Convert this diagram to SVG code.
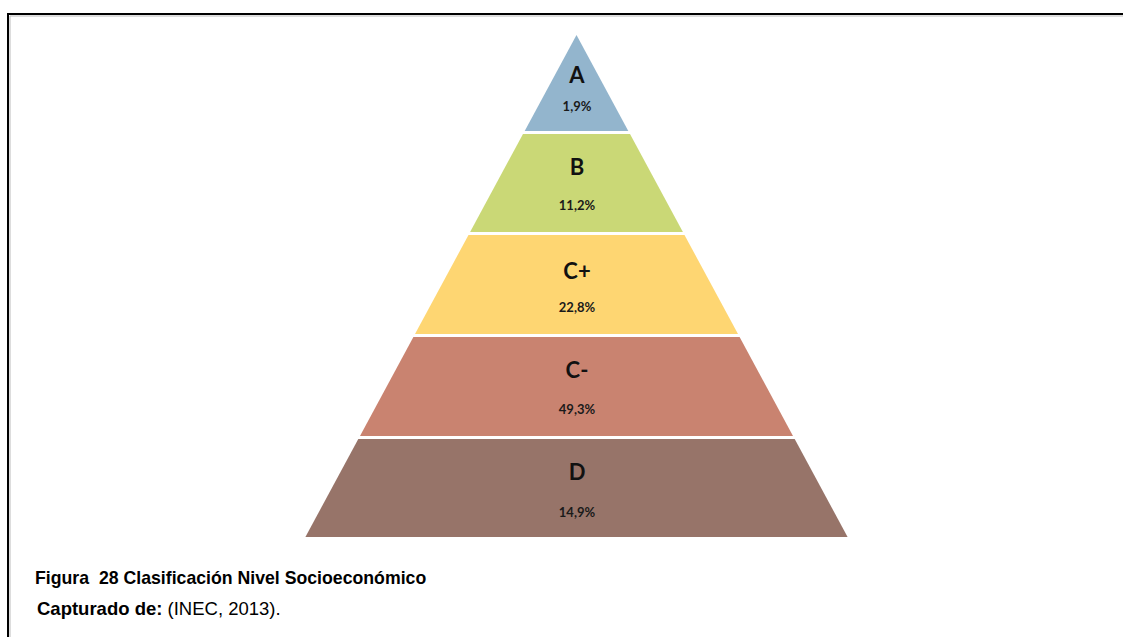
<svg xmlns="http://www.w3.org/2000/svg" width="1123" height="637" viewBox="0 0 1123 637">
<style>
.lvl{font-family:Lato,"Open Sans","Liberation Sans",sans-serif;font-weight:bold;font-size:22px;fill:#111;text-anchor:middle}
.pct{font-family:Lato,"Open Sans","Liberation Sans",sans-serif;font-weight:bold;font-size:13px;fill:#1a1a1a;text-anchor:middle}
.cap{font-family:"Liberation Sans",Arial,sans-serif;fill:#000}
</style>
<rect x="0" y="0" width="1123" height="637" fill="#fff"/>
<path d="M8 637 V14 H1123" fill="none" stroke="#000" stroke-width="2"/>
<path d="M10 637 V16 H1123" fill="none" stroke="#bbb" stroke-width="1"/>
<g id="tier-A">
<polygon points="576.5,35 628.3,131 524.7,131" fill="#93b5cd"/>
<text class="lvl" x="577" y="83">A</text>
<text class="pct" x="577" y="111">1,9%</text>
</g>
<g id="tier-B">
<polygon points="523,134 630,134 682.9,232 470.1,232" fill="#cad876"/>
<text class="lvl" x="577" y="175">B</text>
<text class="pct" x="577" y="210">11,2%</text>
</g>
<g id="tier-Cplus">
<polygon points="468.5,235 684.5,235 738,334 415,334" fill="#fed672"/>
<text class="lvl" x="577" y="279">C+</text>
<text class="pct" x="577" y="312">22,8%</text>
</g>
<g id="tier-Cminus">
<polygon points="413.4,337 739.6,337 793,436 360,436" fill="#c98370"/>
<text class="lvl" x="577" y="378">C-</text>
<text class="pct" x="577" y="414">49,3%</text>
</g>
<g id="tier-D">
<polygon points="358.3,439 794.7,439 847.6,537 305.4,537" fill="#977469"/>
<text class="lvl" x="577" y="480">D</text>
<text class="pct" x="577" y="517">14,9%</text>
</g>
<g id="caption">
<text class="cap" x="35" y="584" font-size="17.7" font-weight="bold" xml:space="preserve">Figura  28 Clasificación Nivel Socioeconómico</text>
<text class="cap" x="37" y="615" font-size="18.5"><tspan font-weight="bold">Capturado de:</tspan> (INEC, 2013).</text>
</g>
</svg>
